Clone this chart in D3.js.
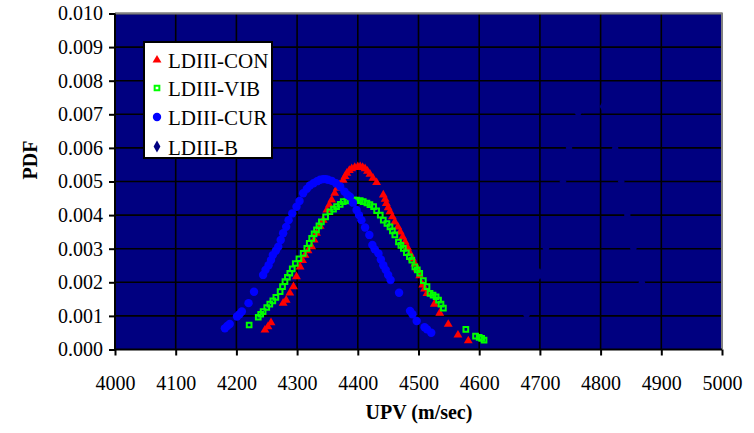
<!DOCTYPE html>
<html>
<head>
<meta charset="utf-8">
<script src="https://cdn.jsdelivr.net/npm/d3@7"></script>
<style>
  html, body { margin: 0; padding: 0; background: #ffffff; }
  svg { display: block; font-family: "Liberation Serif", "Times New Roman", serif; }
</style>
</head>
<body>
<svg id="chart" width="754" height="433"></svg>
<script>
// ---- data ----
const xTicks = [4000, 4100, 4200, 4300, 4400, 4500, 4600, 4700, 4800, 4900, 5000];
const yTicks = [0, 0.001, 0.002, 0.003, 0.004, 0.005, 0.006, 0.007, 0.008, 0.009, 0.010];
const seriesNames = ["LDIII-CON", "LDIII-VIB", "LDIII-CUR", "LDIII-B"];

const conUPV = [4247,4252,4257,4277,4282,4288,4294,4299,4305,4309,4313,4318,4324,4328,4332,4338,4343,4349,4353,4357,4362,4366,4370,4376,4379,4382,4386,4390,4395,4400,4404,4408,4412,4416,4420,4425,4431,4442,4445,4447,4450,4453,4457,4461,4466,4470,4474,4478,4482,4486,4490,4494,4498,4502,4507,4510,4514,4526,4535,4549,4565,4582];
const conPDF = [0.00058,0.00068,0.00080,0.00138,0.00147,0.00168,0.00187,0.00217,0.00246,0.00265,0.00281,0.00294,0.00306,0.00326,0.00346,0.00367,0.00385,0.00415,0.00430,0.00445,0.00465,0.00480,0.00490,0.00504,0.00515,0.00525,0.00533,0.00538,0.00542,0.00544,0.00544,0.00542,0.00538,0.00531,0.00522,0.00510,0.00497,0.00460,0.00447,0.00435,0.00422,0.00410,0.00395,0.00380,0.00365,0.00350,0.00335,0.00320,0.00303,0.00286,0.00270,0.00255,0.00240,0.00220,0.00192,0.00180,0.00167,0.00135,0.00108,0.00075,0.00043,0.00026];

const vibUPV = [4221,4236,4240,4244,4250,4255,4260,4265,4272,4276,4280,4284,4288,4292,4297,4303,4310,4316,4320,4324,4328,4332,4336,4340,4347,4354,4360,4365,4371,4376,4382,4387,4393,4398,4404,4409,4415,4420,4426,4431,4437,4442,4448,4453,4457,4461,4467,4471,4475,4480,4485,4489,4494,4498,4502,4508,4514,4519,4524,4529,4533,4537,4541,4578,4594,4600,4604,4608];
const vibPDF = [0.00073,0.00096,0.00105,0.00113,0.00125,0.00135,0.00145,0.00155,0.00172,0.00187,0.00202,0.00215,0.00227,0.00240,0.00256,0.00270,0.00286,0.00301,0.00316,0.00331,0.00344,0.00356,0.00368,0.00380,0.00395,0.00410,0.00418,0.00425,0.00432,0.00440,0.00442,0.00444,0.00445,0.00445,0.00443,0.00440,0.00436,0.00431,0.00425,0.00413,0.00400,0.00385,0.00375,0.00365,0.00353,0.00341,0.00320,0.00310,0.00301,0.00288,0.00276,0.00266,0.00246,0.00237,0.00227,0.00205,0.00187,0.00167,0.00162,0.00157,0.00147,0.00135,0.00123,0.00060,0.00040,0.00036,0.00033,0.00028];

const curUPV = [4181,4185,4189,4201,4205,4209,4220,4229,4244,4248,4253,4257,4260,4265,4269,4273,4277,4282,4286,4292,4299,4304,4310,4316,4321,4327,4333,4338,4343,4347,4351,4357,4364,4371,4378,4383,4387,4392,4398,4402,4406,4412,4419,4424,4428,4434,4438,4442,4446,4450,4454,4468,4486,4490,4497,4510,4514,4521];
const curPDF = [0.00063,0.00070,0.00076,0.00098,0.00105,0.00113,0.00138,0.00172,0.00222,0.00237,0.00251,0.00266,0.00281,0.00294,0.00306,0.00326,0.00346,0.00365,0.00385,0.00405,0.00425,0.00442,0.00465,0.00478,0.00488,0.00495,0.00501,0.00505,0.00507,0.00507,0.00505,0.00502,0.00495,0.00485,0.00470,0.00460,0.00455,0.00437,0.00415,0.00400,0.00385,0.00363,0.00341,0.00311,0.00298,0.00286,0.00268,0.00251,0.00237,0.00222,0.00207,0.00169,0.00115,0.00105,0.00085,0.00066,0.00060,0.00050];

const bUPV = [4678,4690,4700,4710,4720,4730,4738,4748,4756,4763,4772,4782,4792,4804,4814,4824,4834,4844,4854,4861,4868,4880];
const bPDF = [0.00103,0.00160,0.00225,0.00300,0.00370,0.00450,0.00500,0.00600,0.00660,0.00703,0.00720,0.00728,0.00728,0.00723,0.00670,0.00599,0.00500,0.00400,0.00300,0.00250,0.00200,0.00130];

// ---- layout ----
const L = 115, R = 722, T = 13.5, B = 349.5;
const navy = "#000080";
const svg = d3.select("#chart");

const x = d3.scaleLinear().domain([4000, 5000]).range([L, R]);
const y = d3.scaleLinear().domain([0, 0.010]).range([B, T]);

// plot background
svg.append("rect").attr("x", L).attr("y", T).attr("width", R - L).attr("height", B - T)
  .attr("fill", navy);

// gridlines
const grid = svg.append("g");
grid.selectAll("line.h").data(yTicks.slice(1)).join("line")
  .attr("x1", L).attr("x2", R).attr("y1", d => y(d)).attr("y2", d => y(d))
  .attr("stroke", "#000").attr("stroke-width", 1.6);
grid.selectAll("line.v").data(xTicks.slice(1, -1)).join("line")
  .attr("y1", T).attr("y2", B).attr("x1", d => x(d)).attr("x2", d => x(d))
  .attr("stroke", "#000").attr("stroke-width", 1.6);

// gray frame on top & right
svg.append("path").attr("d", `M${L},${T} H${R} V${B}`).attr("fill", "none")
  .attr("stroke", "#808080").attr("stroke-width", 2);

// markers
const sym = {
  tri: d3.symbol().type(d3.symbolTriangle).size(34),
  sq: d3.symbol().type(d3.symbolSquare).size(22),
  dia: d3.symbol().type(d3.symbolDiamond).size(40)
};
function zip(a, b) { return a.map((v, i) => [v, b[i]]); }

const marks = svg.append("g");
marks.append("g").selectAll("path").data(zip(conUPV, conPDF)).join("path")
  .attr("d", sym.tri).attr("transform", d => `translate(${x(d[0])},${y(d[1])})`)
  .attr("fill", "#ff0000");
marks.append("g").selectAll("path").data(zip(vibUPV, vibPDF)).join("path")
  .attr("d", sym.sq).attr("transform", d => `translate(${x(d[0])},${y(d[1])})`)
  .attr("fill", "none").attr("stroke", "#00ff00").attr("stroke-width", 2);
marks.append("g").selectAll("circle").data(zip(curUPV, curPDF)).join("circle")
  .attr("cx", d => x(d[0])).attr("cy", d => y(d[1])).attr("r", 4.2)
  .attr("fill", "#0000ff");
marks.append("g").selectAll("path").data(zip(bUPV, bPDF)).join("path")
  .attr("d", sym.dia).attr("transform", d => `translate(${x(d[0])},${y(d[1])})`)
  .attr("fill", navy);

// axes
const xAxis = d3.axisBottom(x).tickValues(xTicks).tickSize(6).tickFormat(d3.format("d"));
const yAxis = d3.axisLeft(y).tickValues(yTicks).tickSize(6).tickFormat(d3.format(".3f"));

const gx = svg.append("g").attr("transform", `translate(0,${B})`).call(xAxis);
gx.select(".domain").attr("stroke", "#000").attr("stroke-width", 2).attr("d", `M${L},0H${R}`);
gx.selectAll(".tick line").attr("stroke", "#000").attr("stroke-width", 2);
gx.selectAll(".tick text").attr("font-size", 20).attr("font-family", "Liberation Serif, serif")
  .attr("fill", "#000").attr("dy", null).attr("y", 40);

const gy = svg.append("g").attr("transform", `translate(${L},0)`).call(yAxis);
gy.select(".domain").attr("stroke", "#000").attr("stroke-width", 2).attr("d", `M0,${B}V${T}`);
gy.selectAll(".tick line").attr("stroke", "#000").attr("stroke-width", 2);
gy.selectAll(".tick text").attr("font-size", 20).attr("font-family", "Liberation Serif, serif")
  .attr("fill", "#000").attr("x", -12);

// axis titles
svg.append("text").attr("x", 419).attr("y", 419).attr("text-anchor", "middle")
  .attr("font-size", 20).attr("font-weight", "bold").text("UPV (m/sec)");
svg.append("text").attr("transform", "translate(37,160) rotate(-90)").attr("text-anchor", "middle")
  .attr("font-size", 20).attr("font-weight", "bold").text("PDF");

// legend
const lg = svg.append("g");
lg.append("rect").attr("x", 144).attr("y", 42).attr("width", 128).attr("height", 116)
  .attr("fill", "#fff").attr("stroke", "#000").attr("stroke-width", 2);
const legendY = [60, 88, 117, 146.5];
const item = lg.selectAll("g.item").data(seriesNames).join("g")
  .attr("transform", (d, i) => `translate(157,${legendY[i]})`);
item.each(function(d, i) {
  const g = d3.select(this);
  if (i === 0) g.append("path").attr("d", sym.tri).attr("fill", "#ff0000");
  if (i === 1) g.append("path").attr("d", sym.sq).attr("fill", "none").attr("stroke", "#00ff00").attr("stroke-width", 2);
  if (i === 2) g.append("circle").attr("r", 4.2).attr("fill", "#0000ff");
  if (i === 3) g.append("path").attr("d", sym.dia).attr("fill", navy);
  g.append("text").attr("x", 11).attr("y", 8).attr("font-size", 21).attr("fill", "#000").text(d);
});
</script>
</body>
</html>
